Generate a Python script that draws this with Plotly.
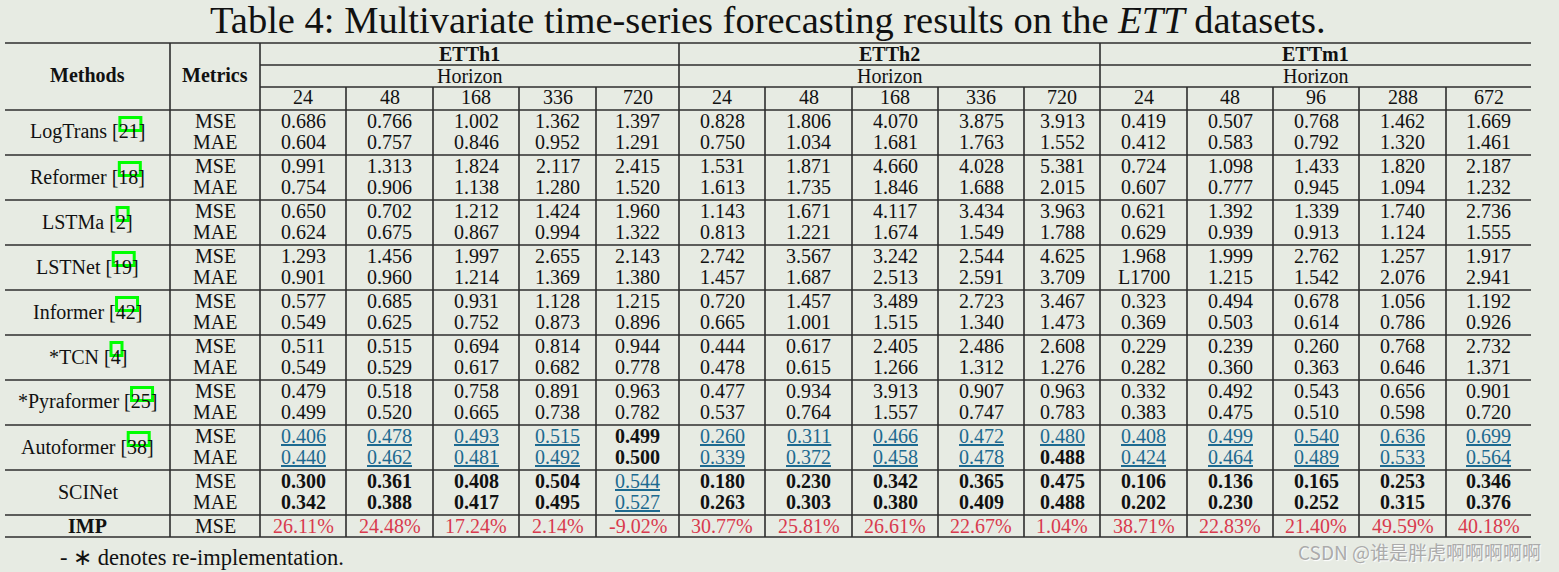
import plotly.graph_objects as go

# ---------------- data ----------------
title_main = "Table 4: Multivariate time-series forecasting results on the <i>ETT</i> datasets."
footnote = "- ∗ denotes re-implementation."
watermark = "CSDN @谁是胖虎啊啊啊啊啊"

datasets = ["ETTh1", "ETTh2", "ETTm1"]
horizon_label = "Horizon"
horizons_etth1 = ["24", "48", "168", "336", "720"]
horizons_etth2 = ["24", "48", "168", "336", "720"]
horizons_ettm1 = ["24", "48", "96", "288", "672"]

methods = ["LogTrans", "Reformer", "LSTMa", "LSTNet", "Informer",
           "*TCN", "*Pyraformer", "Autoformer", "SCINet"]
citations = ["21", "18", "2", "19", "42", "4", "25", "38", ""]
metrics = ["MSE", "MAE"]

logtrans_mse = ["0.686", "0.766", "1.002", "1.362", "1.397", "0.828", "1.806", "4.070", "3.875", "3.913", "0.419", "0.507", "0.768", "1.462", "1.669"]
logtrans_mae = ["0.604", "0.757", "0.846", "0.952", "1.291", "0.750", "1.034", "1.681", "1.763", "1.552", "0.412", "0.583", "0.792", "1.320", "1.461"]
reformer_mse = ["0.991", "1.313", "1.824", "2.117", "2.415", "1.531", "1.871", "4.660", "4.028", "5.381", "0.724", "1.098", "1.433", "1.820", "2.187"]
reformer_mae = ["0.754", "0.906", "1.138", "1.280", "1.520", "1.613", "1.735", "1.846", "1.688", "2.015", "0.607", "0.777", "0.945", "1.094", "1.232"]
lstma_mse = ["0.650", "0.702", "1.212", "1.424", "1.960", "1.143", "1.671", "4.117", "3.434", "3.963", "0.621", "1.392", "1.339", "1.740", "2.736"]
lstma_mae = ["0.624", "0.675", "0.867", "0.994", "1.322", "0.813", "1.221", "1.674", "1.549", "1.788", "0.629", "0.939", "0.913", "1.124", "1.555"]
lstnet_mse = ["1.293", "1.456", "1.997", "2.655", "2.143", "2.742", "3.567", "3.242", "2.544", "4.625", "1.968", "1.999", "2.762", "1.257", "1.917"]
lstnet_mae = ["0.901", "0.960", "1.214", "1.369", "1.380", "1.457", "1.687", "2.513", "2.591", "3.709", "L1700", "1.215", "1.542", "2.076", "2.941"]
informer_mse = ["0.577", "0.685", "0.931", "1.128", "1.215", "0.720", "1.457", "3.489", "2.723", "3.467", "0.323", "0.494", "0.678", "1.056", "1.192"]
informer_mae = ["0.549", "0.625", "0.752", "0.873", "0.896", "0.665", "1.001", "1.515", "1.340", "1.473", "0.369", "0.503", "0.614", "0.786", "0.926"]
tcn_mse = ["0.511", "0.515", "0.694", "0.814", "0.944", "0.444", "0.617", "2.405", "2.486", "2.608", "0.229", "0.239", "0.260", "0.768", "2.732"]
tcn_mae = ["0.549", "0.529", "0.617", "0.682", "0.778", "0.478", "0.615", "1.266", "1.312", "1.276", "0.282", "0.360", "0.363", "0.646", "1.371"]
pyraformer_mse = ["0.479", "0.518", "0.758", "0.891", "0.963", "0.477", "0.934", "3.913", "0.907", "0.963", "0.332", "0.492", "0.543", "0.656", "0.901"]
pyraformer_mae = ["0.499", "0.520", "0.665", "0.738", "0.782", "0.537", "0.764", "1.557", "0.747", "0.783", "0.383", "0.475", "0.510", "0.598", "0.720"]
autoformer_mse = ["0.406", "0.478", "0.493", "0.515", "0.499", "0.260", "0.311", "0.466", "0.472", "0.480", "0.408", "0.499", "0.540", "0.636", "0.699"]
autoformer_mae = ["0.440", "0.462", "0.481", "0.492", "0.500", "0.339", "0.372", "0.458", "0.478", "0.488", "0.424", "0.464", "0.489", "0.533", "0.564"]
scinet_mse = ["0.300", "0.361", "0.408", "0.504", "0.544", "0.180", "0.230", "0.342", "0.365", "0.475", "0.106", "0.136", "0.165", "0.253", "0.346"]
scinet_mae = ["0.342", "0.388", "0.417", "0.495", "0.527", "0.263", "0.303", "0.380", "0.409", "0.488", "0.202", "0.230", "0.252", "0.315", "0.376"]
imp_label = "IMP"
imp_mse = ["26.11%", "24.48%", "17.24%", "2.14%", "-9.02%", "30.77%", "25.81%", "26.61%", "22.67%", "1.04%", "38.71%", "22.83%", "21.40%", "49.59%", "40.18%"]

# marks: "b" = best (bold), "u" = second best (underlined)
autoformer_mse_marks = ["u", "u", "u", "u", "b", "u", "u", "u", "u", "u", "u", "u", "u", "u", "u"]
autoformer_mae_marks = ["u", "u", "u", "u", "b", "u", "u", "u", "u", "b", "u", "u", "u", "u", "u"]
scinet_mse_marks = ["b", "b", "b", "b", "u", "b", "b", "b", "b", "b", "b", "b", "b", "b", "b"]
scinet_mae_marks = ["b", "b", "b", "b", "u", "b", "b", "b", "b", "b", "b", "b", "b", "b", "b"]

rows = [
    (logtrans_mse, logtrans_mae, None, None),
    (reformer_mse, reformer_mae, None, None),
    (lstma_mse, lstma_mae, None, None),
    (lstnet_mse, lstnet_mae, None, None),
    (informer_mse, informer_mae, None, None),
    (tcn_mse, tcn_mae, None, None),
    (pyraformer_mse, pyraformer_mae, None, None),
    (autoformer_mse, autoformer_mae, autoformer_mse_marks, autoformer_mae_marks),
    (scinet_mse, scinet_mae, scinet_mse_marks, scinet_mae_marks),
]

# ---------------- layout / style ----------------
W, H = 1559, 572
BG = "#e7ebe3"
INK = "#111111"
RULE = "#2e2e2e"
BLUE = "#1d6a90"
RED = "#d93a4e"
SERIF = "Liberation Serif, Times New Roman, serif"
FS = 20

x_left, x_right = 5, 1531
col_method = (5, 170)
col_metric = (170, 260)
group_edges = [260, 679, 1100, 1531]
col_edges = [260, 346, 433, 519, 596, 679, 765, 852, 938, 1024, 1100,
             1187, 1273, 1359, 1446, 1531]
y_top, y_group, y_hor, y_head = 43, 65, 87, 110
row_h = 45
y_imp_top = y_head + row_h * len(methods)
y_bottom = y_imp_top + 22

TIMES_W = {'L': 611, 'o': 500, 'g': 500, 'T': 611, 'r': 333, 'a': 444, 'n': 500,
           's': 389, ' ': 250, '[': 333, ']': 333, 'R': 667, 'e': 444, 'f': 333,
           'm': 778, 'S': 556, 'M': 889, 'N': 722, 't': 278, 'I': 333, 'i': 278,
           'C': 667, '*': 500, 'P': 556, 'y': 500, 'A': 722, 'u': 500}


def tw(s, size=FS):
    return sum(TIMES_W.get(c, 500) for c in s) * size / 1000.0


fig = go.Figure()
shapes = []
ann = []


def hline(y, x0, x1, w=1.6):
    shapes.append(dict(type="line", xref="x", yref="y", x0=x0, x1=x1, y0=y, y1=y,
                       line=dict(color=RULE, width=w)))


def vline(x, y0, y1, w=1.6):
    shapes.append(dict(type="line", xref="x", yref="y", x0=x, x1=x, y0=y0, y1=y1,
                       line=dict(color=RULE, width=w)))


def text(x, y, s, size=FS, color=INK, xanchor="center", family=SERIF, **fontkw):
    ann.append(dict(x=x, y=y, xref="x", yref="y", text=s, showarrow=False,
                    xanchor=xanchor, yanchor="middle",
                    font=dict(family=family, size=size, color=color, **fontkw)))


# rules
hline(y_top, x_left, x_right)
hline(y_group, group_edges[0], x_right)
hline(y_hor, group_edges[0], x_right)
hline(y_head, x_left, x_right)
for i in range(1, len(methods) + 1):
    hline(y_head + row_h * i, x_left, x_right)
hline(y_bottom, x_left, x_right)
for x in [col_method[1], col_metric[1]] + group_edges[1:-1]:
    vline(x, y_top, y_bottom)
for x in col_edges[1:-1]:
    if x not in group_edges:
        vline(x, y_hor, y_bottom)

# title
text((x_left + x_right) / 2, 20, title_main, size=38.5)

# header
text(sum(col_method) / 2, 75, "<b>Methods</b>")
text(sum(col_metric) / 2, 75, "<b>Metrics</b>")
all_h = horizons_etth1 + horizons_etth2 + horizons_ettm1
for g, name in enumerate(datasets):
    cx = (group_edges[g] + group_edges[g + 1]) / 2
    text(cx, 54, "<b>" + name + "</b>")
    text(cx, 76, horizon_label)
for j, h in enumerate(all_h):
    text((col_edges[j] + col_edges[j + 1]) / 2, 97, h)

# body
for i, (mse, mae, mse_m, mae_m) in enumerate(rows):
    top = y_head + row_h * i
    mid = top + row_h / 2
    label = methods[i] + (" [" + citations[i] + "]" if citations[i] else "")
    cx = sum(col_method) / 2
    text(cx, mid - 1, label)
    if citations[i]:
        total = tw(label)
        d0 = cx - total / 2 + tw(methods[i] + " [")
        d1 = d0 + tw(citations[i])
        shapes.append(dict(type="rect", xref="x", yref="y", x0=d0 + 1, x1=d1 + 2,
                           y0=mid - 15, y1=mid - 2, layer="above",
                           line=dict(color="#00ff00", width=3)))
    for k, (vals, marks) in enumerate([(mse, mse_m), (mae, mae_m)]):
        y = top + 11 + 21 * k
        text(sum(col_metric) / 2, y, metrics[k])
        for j, v in enumerate(vals):
            xc = (col_edges[j] + col_edges[j + 1]) / 2
            m = marks[j] if marks else ""
            if m == "b":
                text(xc, y, "<b>" + v + "</b>")
            elif m == "u":
                text(xc, y, v, color=BLUE, lineposition="under")
            else:
                text(xc, y, v)

# IMP row
ymid = (y_imp_top + y_bottom) / 2
text(sum(col_method) / 2, ymid, "<b>" + imp_label + "</b>")
text(sum(col_metric) / 2, ymid, metrics[0])
for j, v in enumerate(imp_mse):
    text((col_edges[j] + col_edges[j + 1]) / 2, ymid, v, color=RED)

# footnote & watermark
text(58, 557, footnote, size=22.5, xanchor="left")
text(1543, 551, watermark, size=19, color="#ababab", xanchor="right",
     family="Noto Sans CJK SC, Noto Sans, sans-serif", shadow="1px 1px 1px #ffffff")

fig.update_layout(
    width=W, height=H, autosize=False,
    margin=dict(l=0, r=0, t=0, b=0, pad=0),
    paper_bgcolor=BG, plot_bgcolor=BG,
    xaxis=dict(range=[0, W], visible=False, fixedrange=True),
    yaxis=dict(range=[H, 0], visible=False, fixedrange=True),
    shapes=shapes, annotations=ann, showlegend=False,
)
fig.write_html("out.html", config={"displayModeBar": False},
               post_script="document.body.style.margin='0';document.body.style.background='" + BG + "';")
